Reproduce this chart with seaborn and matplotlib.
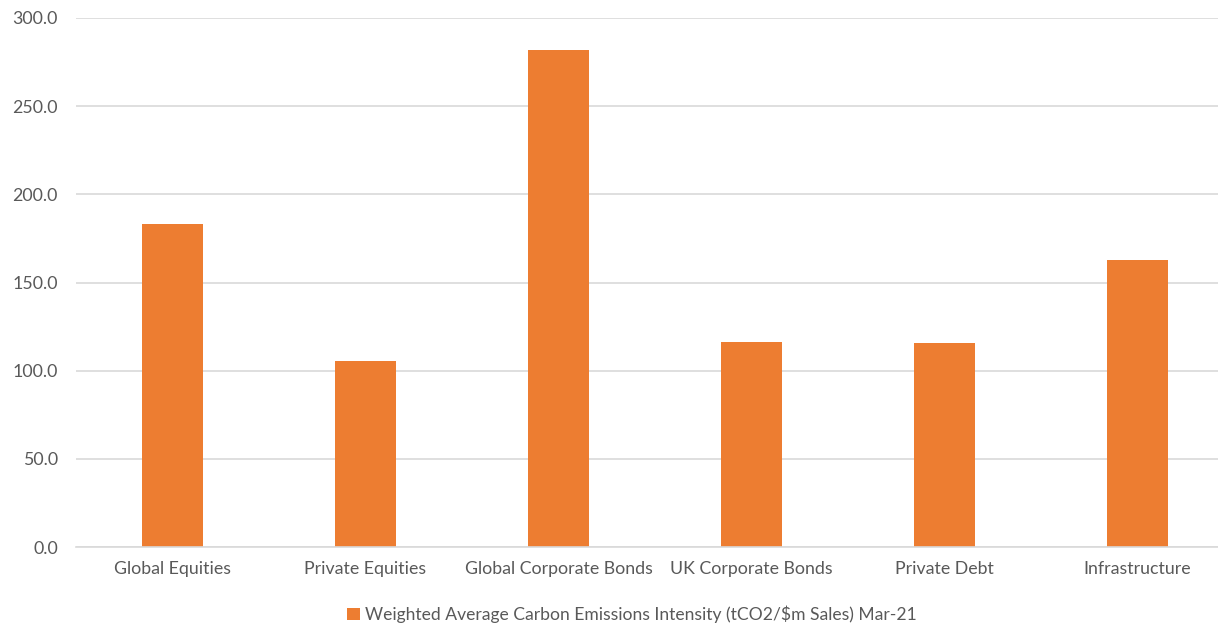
import matplotlib
matplotlib.use("Agg")
import matplotlib.pyplot as plt
import seaborn as sns
import pandas as pd
from matplotlib.patches import Patch

categories = ["Global Equities", "Private Equities", "Global Corporate Bonds",
              "UK Corporate Bonds", "Private Debt", "Infrastructure"]
values = [183.2, 105.5, 281.9, 116.5, 115.5, 162.8]
series_name = "Weighted Average Carbon Emissions Intensity (tCO2/$m Sales) Mar-21"
yticks = [0, 50, 100, 150, 200, 250, 300]

df = pd.DataFrame({"cat": categories, "val": values})

sns.set_theme(style="white")
plt.rcParams['font.family'] = ['Lato', 'DejaVu Sans']

W, H = 1218, 627
fig = plt.figure(figsize=(W/100, H/100), dpi=100)
left, right = 76/W, 1.0
bottom, top = 1 - 547/H, 1 - 18/H
ax = fig.add_axes([left, bottom, right-left, top-bottom])

orange = "#ED7D31"
sns.barplot(data=df, x="cat", y="val", color=orange, width=0.316, ax=ax,
            saturation=1, edgecolor="none")

ax.set_ylim(0, 300)
ax.set_xlim(-0.5, 5.5 - (1234-1218)/193)
ax.set_yticks(yticks)
ax.set_yticklabels([f"{t:.1f}" for t in yticks])
ax.yaxis.grid(True, color="#D9D9D9", linewidth=1.2)
ax.set_axisbelow(True)
for s in ["top", "right", "left"]:
    ax.spines[s].set_visible(False)
ax.spines["bottom"].set_color("#D9D9D9")
ax.spines["bottom"].set_linewidth(1.2)
ax.tick_params(axis="both", length=0, colors="#595959", labelsize=12.8)
ax.tick_params(axis="y", pad=13)
ax.tick_params(axis="x", pad=10)
ax.set_xlabel("")
ax.set_ylabel("")

handles = [Patch(facecolor=orange, edgecolor="none", label=series_name)]
fig.legend(handles=handles, loc="center", bbox_to_anchor=(632/W, 1 - 614/H),
           frameon=False, fontsize=12.6, handlelength=0.7, handleheight=0.7,
           handletextpad=0.3, labelcolor="#595959")

fig.savefig("out.png", dpi=100)
